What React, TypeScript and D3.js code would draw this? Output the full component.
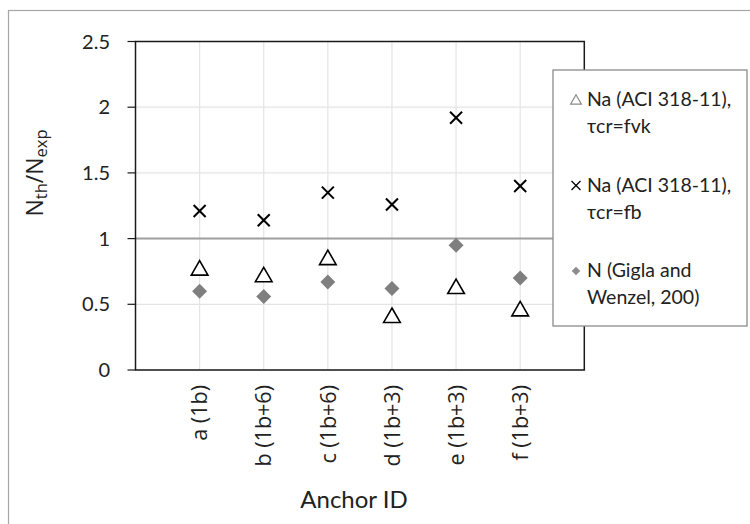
import React from "react";
import * as d3 from "d3";

const categories = ["a (1b)", "b (1b+6)", "c (1b+6)", "d (1b+3)", "e (1b+3)", "f (1b+3)"];
const fvkValues = [0.77, 0.72, 0.85, 0.41, 0.63, 0.46];
const fbValues = [1.21, 1.14, 1.35, 1.26, 1.92, 1.4];
const giglaValues = [0.6, 0.56, 0.67, 0.62, 0.95, 0.7];
const yTicks = [0, 0.5, 1, 1.5, 2, 2.5];
const legendEntries = [
  { key: "fvk", lines: ["Na (ACI 318-11),", "τcr=fvk"] },
  { key: "fb", lines: ["Na (ACI 318-11),", "τcr=fb"] },
  { key: "gigla", lines: ["N (Gigla and", "Wenzel, 200)"] },
];

const W = 750;
const H = 524;
const plot = { left: 135.5, right: 584.3, top: 41.5, bottom: 370 };

const x = d3.scaleLinear().domain([0, categories.length + 1]).range([plot.left, plot.right]);
const y = d3.scaleLinear().domain([0, 2.5]).range([plot.bottom, plot.top]);

const triPath = d3.symbol().type(d3.symbolTriangle).size(120)() as string;
const diamondPath = d3.symbol().type(d3.symbolSquare).size(112)() as string;
const legTriPath = d3.symbol().type(d3.symbolTriangle).size(50)() as string;
const legDiamondPath = d3.symbol().type(d3.symbolSquare).size(36)() as string;

function Cross({ cx, cy, r, sw }: { cx: number; cy: number; r: number; sw: number }) {
  return (
    <g stroke="#000" strokeWidth={sw}>
      <line x1={cx - r} y1={cy - r} x2={cx + r} y2={cy + r} />
      <line x1={cx - r} y1={cy + r} x2={cx + r} y2={cy - r} />
    </g>
  );
}

export default function App() {
  const tickFont = "Lato, 'Open Sans', sans-serif";
  const legendX = 553;
  const legendY = 70;
  const legendW = 194;
  const legendH = 256;
  const entryGap = 85.5;
  return (
    <svg
      width={W}
      height={H}
      style={{ position: "absolute", left: 0, top: 0, background: "#fff" }}
    >
      <rect x={0} y={0} width={W} height={H} fill="#fff" />
      <rect x={8.5} y={10.5} width={W + 20} height={H + 20} fill="none" stroke="#a6a6a6" strokeWidth={1.2} />

      {/* gridlines */}
      {yTicks.map((t) => (
        <line key={"gy" + t} x1={plot.left} x2={plot.right} y1={y(t)} y2={y(t)} stroke="#e4e4e4" strokeWidth={1.2} />
      ))}
      {categories.map((c, i) => (
        <line key={"gx" + c} x1={x(i + 1)} x2={x(i + 1)} y1={plot.top} y2={plot.bottom} stroke="#e4e4e4" strokeWidth={1.2} />
      ))}
      {/* reference line at 1 */}
      <line x1={plot.left} x2={plot.right} y1={y(1)} y2={y(1)} stroke="#a0a0a0" strokeWidth={2} />

      {/* plot frame */}
      <rect x={plot.left} y={plot.top} width={plot.right - plot.left} height={plot.bottom - plot.top} fill="none" stroke="#1a1a1a" strokeWidth={1.5} />

      {/* y ticks */}
      {yTicks.map((t) => (
        <g key={"ty" + t}>
          <line x1={plot.left - 8} x2={plot.left} y1={y(t)} y2={y(t)} stroke="#1a1a1a" strokeWidth={1.2} />
          <text x={110} y={y(t)} dy="0.35em" textAnchor="end" fontFamily={tickFont} fontSize={20} fill="#222">
            {String(t)}
          </text>
        </g>
      ))}

      {/* x category labels */}
      {categories.map((c, i) => (
        <text
          key={"tx" + c}
          transform={`translate(${x(i + 1)},385) rotate(-90)`}
          textAnchor="end"
          dy="0.36em"
          fontFamily="'Open Sans', sans-serif"
          fontSize={21.5}
          fill="#222"
        >
          {c}
        </text>
      ))}

      {/* axis titles */}
      <text x={354} y={508} textAnchor="middle" fontFamily={tickFont} fontSize={24} fill="#222">
        Anchor ID
      </text>
      <text
        transform="translate(43,173) rotate(-90)"
        textAnchor="middle"
        fontFamily="'Open Sans', sans-serif"
        fontSize={23}
        fill="#222"
      >
        <tspan>N</tspan>
        <tspan fontSize={16.5} dy={4}>th</tspan>
        <tspan dy={-4}>/N</tspan>
        <tspan fontSize={16.5} dy={4}>exp</tspan>
      </text>

      {/* series: fvk (open triangles) */}
      {fvkValues.map((v, i) => (
        <path
          key={"fvk" + i}
          d={triPath}
          transform={`translate(${x(i + 1)},${y(v) + 1.5})`}
          fill="#fff"
          stroke="#000"
          strokeWidth={1.6}
        />
      ))}
      {/* series: fb (crosses) */}
      {fbValues.map((v, i) => (
        <Cross key={"fb" + i} cx={x(i + 1)} cy={y(v)} r={6} sw={2} />
      ))}
      {/* series: gigla (diamonds) */}
      {giglaValues.map((v, i) => (
        <path
          key={"gg" + i}
          d={diamondPath}
          transform={`translate(${x(i + 1)},${y(v)}) rotate(45)`}
          fill="#7f7f7f"
        />
      ))}

      {/* legend */}
      <rect x={legendX} y={legendY} width={legendW} height={legendH} fill="#fff" stroke="#8c8c8c" strokeWidth={1.3} />
      {legendEntries.map((e, k) => {
        const base = 106 + k * entryGap;
        const my = base - 6;
        return (
          <g key={e.key}>
            {e.key === "fvk" && (
              <path d={legTriPath} transform={`translate(576,${my + 1})`} fill="#fff" stroke="#8c8c8c" strokeWidth={1.2} />
            )}
            {e.key === "fb" && <Cross cx={576} cy={my} r={4.5} sw={1.3} />}
            {e.key === "gigla" && (
              <path d={legDiamondPath} transform={`translate(576,${my}) rotate(45)`} fill="#8c8c8c" />
            )}
            {e.lines.map((ln, j) => (
              <text key={j} x={587} y={base + j * 27} fontFamily={tickFont} fontSize={19.5} fill="#222">
                {ln}
              </text>
            ))}
          </g>
        );
      })}
    </svg>
  );
}
